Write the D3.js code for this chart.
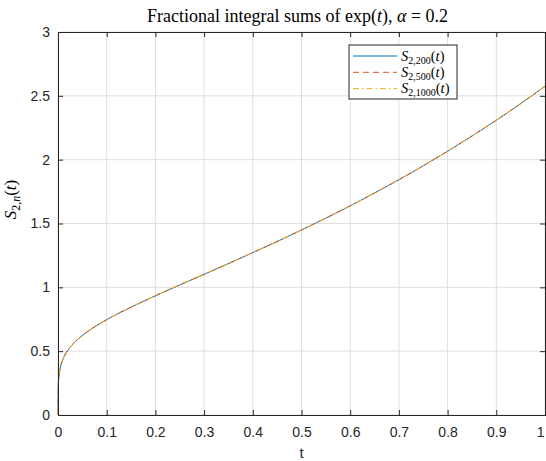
<!DOCTYPE html>
<html>
<head>
<meta charset="utf-8">
<script src="https://cdn.jsdelivr.net/npm/d3@7"></script>
<style>
  body { margin: 0; background: #fff; }
  svg { display: block; }
  .tick text { font-family: "Liberation Sans", Arial, sans-serif; font-size: 14px; fill: #262626; }
  .latex { font-family: "Liberation Serif", "DejaVu Serif", serif; fill: #000; }
</style>
</head>
<body>
<div id="chart"></div>
<script>
var tVals = [0, 0.0005, 0.001, 0.002, 0.005, 0.01, 0.02, 0.03, 0.05, 0.075, 0.1, 0.15, 0.2, 0.25, 0.3, 0.35, 0.4,
             0.45, 0.5, 0.55, 0.6, 0.65, 0.7, 0.75, 0.8, 0.85, 0.9, 0.95, 1];
// S_{2,200}(t)
var s200 = [0, 0.20, 0.26, 0.30, 0.375, 0.435, 0.505, 0.553, 0.623, 0.690, 0.747, 0.845, 0.934, 1.019, 1.102, 1.186, 1.272,
            1.359, 1.449, 1.542, 1.638, 1.739, 1.843, 1.952, 2.066, 2.185, 2.309, 2.439, 2.575];
// S_{2,500}(t)
var s500 = [0, 0.22, 0.265, 0.31, 0.377, 0.436, 0.506, 0.553, 0.623, 0.690, 0.747, 0.845, 0.934, 1.019, 1.102, 1.186, 1.272,
            1.359, 1.449, 1.542, 1.638, 1.739, 1.843, 1.952, 2.066, 2.185, 2.309, 2.439, 2.575];
// S_{2,1000}(t)
var s1000 = [0, 0.23, 0.27, 0.313, 0.378, 0.437, 0.506, 0.554, 0.624, 0.691, 0.747, 0.845, 0.934, 1.019, 1.102, 1.186, 1.272,
             1.359, 1.449, 1.542, 1.638, 1.739, 1.843, 1.952, 2.066, 2.185, 2.309, 2.439, 2.575];
var seriesNames = ["200", "500", "1000"];
var xTicks = [0, 0.1, 0.2, 0.3, 0.4, 0.5, 0.6, 0.7, 0.8, 0.9, 1];
var yTicks = [0, 0.5, 1, 1.5, 2, 2.5, 3];

var W = 546, H = 461;
var margin = { top: 32, right: 1, bottom: 46, left: 58 },
    width = W - margin.left - margin.right,
    height = H - margin.top - margin.bottom;

var x = d3.scaleLinear().domain([0, 1]).range([0, width]);
var y = d3.scaleLinear().domain([0, 3]).range([height, 0]);

var svg = d3.select("#chart").append("svg")
    .attr("width", W)
    .attr("height", H)
    .append("g")
    .attr("transform", "translate(" + margin.left + "," + margin.top + ")");

// grid
svg.selectAll(null).data(xTicks).enter().append("line")
    .attr("x1", function(d) { return x(d); }).attr("x2", function(d) { return x(d); })
    .attr("y1", 0).attr("y2", height)
    .attr("stroke", "#dfdfdf").attr("stroke-width", 1);
svg.selectAll(null).data(yTicks).enter().append("line")
    .attr("y1", function(d) { return y(d); }).attr("y2", function(d) { return y(d); })
    .attr("x1", 0).attr("x2", width)
    .attr("stroke", "#dfdfdf").attr("stroke-width", 1);

var series = [
    { name: seriesNames[0], vals: s200, color: "#0072BD", dash: null },
    { name: seriesNames[1], vals: s500, color: "#D95319", dash: "6,4" },
    { name: seriesNames[2], vals: s1000, color: "#EDB120", dash: "6,3,1.5,3" }
];

var line = d3.line()
    .x(function(d) { return x(d[0]); })
    .y(function(d) { return y(d[1]); })
    .curve(d3.curveMonotoneX);

series.forEach(function(s) {
    svg.append("path")
        .datum(tVals.map(function(t, i) { return [t, s.vals[i]]; }))
        .attr("fill", "none")
        .attr("stroke", s.color)
        .attr("stroke-width", 1)
        .attr("stroke-dasharray", s.dash)
        .attr("d", line);
});

// axes (ticks inside, box on)
var fmt = function(d) { return d3.format("~g")(d); };
var xAxis = svg.append("g").attr("transform", "translate(0," + height + ")")
    .call(d3.axisBottom(x).tickValues(xTicks).tickSize(-5).tickPadding(12).tickFormat(fmt));
// last label would hang over the window edge
xAxis.selectAll(".tick text").filter(function(d) { return d === 1; })
    .attr("text-anchor", "end").attr("dx", -1);
svg.append("g")
    .call(d3.axisTop(x).tickValues(xTicks).tickSize(-5).tickFormat(""));
svg.append("g")
    .call(d3.axisLeft(y).tickValues(yTicks).tickSize(-5).tickPadding(8).tickFormat(fmt));
svg.append("g").attr("transform", "translate(" + width + ",0)")
    .call(d3.axisRight(y).tickValues(yTicks).tickSize(-5).tickFormat(""));
svg.selectAll(".domain").attr("stroke", "#262626");
svg.selectAll(".tick line").attr("stroke", "#262626");

// title
var title = svg.append("text").attr("class", "latex")
    .attr("x", width / 2 - 4).attr("y", -10)
    .attr("text-anchor", "middle")
    .style("font-size", "18px");
title.append("tspan").text("Fractional integral sums of exp(");
title.append("tspan").style("font-style", "italic").text("t");
title.append("tspan").text("), ");
title.append("tspan").style("font-style", "italic").text("α");
title.append("tspan").text(" = 0.2");

// x label
svg.append("text")
    .attr("x", width / 2).attr("y", height + 43)
    .attr("text-anchor", "middle")
    .style("font-family", "Liberation Sans, Arial, sans-serif")
    .style("font-size", "15px").attr("fill", "#262626")
    .text("t");

// y label
var yl = svg.append("text").attr("class", "latex")
    .attr("transform", "translate(-42," + (height / 2 - 24) + ") rotate(-90)")
    .attr("text-anchor", "middle")
    .style("font-size", "17px");
yl.append("tspan").style("font-style", "italic").text("S");
yl.append("tspan").attr("dy", 4).style("font-size", "12px").text("2,");
yl.append("tspan").style("font-size", "12px").style("font-style", "italic").text("n");
yl.append("tspan").attr("dy", -4).text("(");
yl.append("tspan").style("font-style", "italic").text("t");
yl.append("tspan").text(")");

// legend
var lg = svg.append("g").attr("transform", "translate(" + (349 - margin.left) + "," + (45 - margin.top) + ")");
lg.append("rect").attr("width", 108).attr("height", 54)
    .attr("fill", "#fff").attr("stroke", "#262626").attr("stroke-width", 1);
series.forEach(function(s, i) {
    var yy = 11 + i * 16.3;
    lg.append("line").attr("x1", 4).attr("x2", 48).attr("y1", yy).attr("y2", yy)
        .attr("stroke", s.color).attr("stroke-width", 1).attr("stroke-dasharray", s.dash);
    var t = lg.append("text").attr("class", "latex").attr("x", 52).attr("y", yy + 4.5)
        .style("font-size", "14.5px");
    t.append("tspan").style("font-style", "italic").text("S");
    t.append("tspan").attr("dy", 3).style("font-size", "10px").text("2," + s.name);
    t.append("tspan").attr("dy", -3).text("(");
    t.append("tspan").style("font-style", "italic").text("t");
    t.append("tspan").text(")");
});
</script>
</body>
</html>
